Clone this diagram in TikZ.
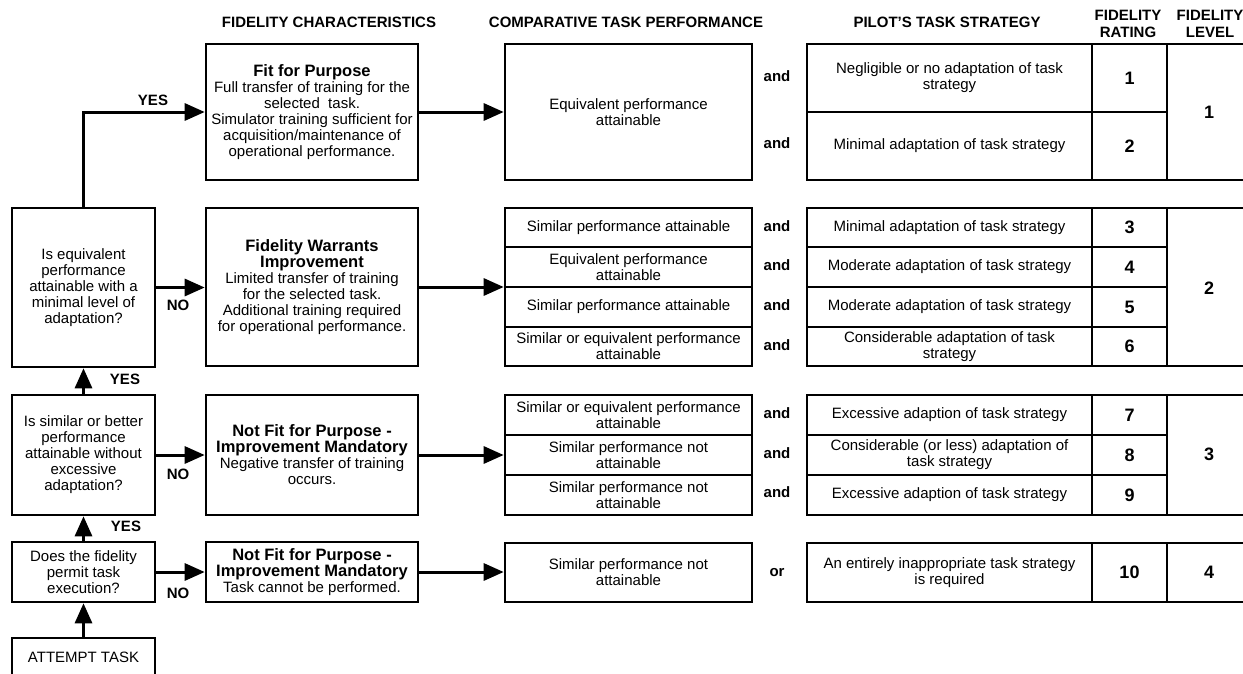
\documentclass[tikz,border=0pt]{standalone}
\usepackage{fontspec}
\setmainfont{Liberation Sans}
\usetikzlibrary{arrows.meta}

\newcommand\boxtitle[1]{{\bfseries\fontsize{16.5}{17}\selectfont #1}}
% \cell[options]{name}{left}{top}{right}{bottom}{text}
\newcommand\cell[6][]{\node[box,#1,minimum width={(#5-#3)*1pt},minimum height={(#6-#4)*1pt}] (#2) at ({(#3+#5)/2},{(#4+#6)/2})}

\begin{document}
\begin{tikzpicture}[x=1pt,y=-1pt,
  box/.style={draw, line width=2.6pt, inner sep=0pt, align=center,
              font=\fontsize{15}{16}\selectfont},
  hd/.style={font=\bfseries\fontsize{15}{16.5}\selectfont, align=center},
  lbl/.style={font=\bfseries\fontsize{15}{16}\selectfont, inner sep=0pt},
  num/.style={box, font=\bfseries\fontsize{18}{20}\selectfont},
  flow/.style={line width=3pt, -{Triangle[length=20pt,width=17pt]}},
]
\useasboundingbox (0,0) rectangle (1243,673);
\clip (0,0) rectangle (1243,673);

% column headings
\node[hd] (h1) at (329,22) {FIDELITY CHARACTERISTICS};
\node[hd] (h2) at (626,22) {COMPARATIVE TASK PERFORMANCE};
\node[hd] (h3) at (947,22) {PILOT'S TASK STRATEGY};
\node[hd] (h4) at (1128,24) {FIDELITY\\RATING};
\node[hd] (h5) at (1210,24) {FIDELITY\\LEVEL};

% decision column
\cell{q1}{12}{208}{155}{367}{Is equivalent\\performance\\attainable with a\\minimal level of\\adaptation?};
\cell{q2}{12}{395}{155}{515}{Is similar or better\\performance\\attainable without\\excessive\\adaptation?};
\cell{q3}{12}{542}{155}{602}{Does the fidelity\\permit task\\execution?};
\cell{q0}{12}{638}{155}{678}{};
\node[font=\fontsize{15}{16}\selectfont] (q0t) at (83.5,657) {ATTEMPT TASK};

% fidelity characteristics
\cell{ffp}{206}{44}{418}{180}{\boxtitle{Fit for Purpose}\\Full transfer of training for the\\selected\ \ task.\\Simulator training sufficient for\\acquisition/maintenance of\\operational performance.};
\cell{fw}{206}{208}{418}{366}{\boxtitle{Fidelity Warrants}\\\boxtitle{Improvement}\\Limited transfer of training\\for the selected task.\\Additional training required\\for operational performance.};
\cell{nf1}{206}{395}{418}{515}{\boxtitle{Not Fit for Purpose -}\\\boxtitle{Improvement Mandatory}\\Negative transfer of training\\occurs.};
\cell{nf2}{206}{542}{418}{602}{\boxtitle{Not Fit for Purpose -}\\\boxtitle{Improvement Mandatory}\\Task cannot be performed.};

% comparative task performance
\cell{p1}{505}{44}{752}{180}{Equivalent performance\\attainable};
\cell{p21}{505}{208}{752}{247}{Similar performance attainable};
\cell{p22}{505}{247}{752}{287}{Equivalent performance\\attainable};
\cell{p23}{505}{287}{752}{327}{Similar performance attainable};
\cell{p24}{505}{327}{752}{366}{Similar or equivalent performance\\attainable};
\cell{p31}{505}{395}{752}{435}{Similar or equivalent performance\\attainable};
\cell{p32}{505}{435}{752}{475}{Similar performance not\\attainable};
\cell{p33}{505}{475}{752}{515}{Similar performance not\\attainable};
\cell{p4}{505}{543}{752}{602}{Similar performance not\\attainable};

% connectives
\node[lbl] (a11) at (777,76) {and};
\node[lbl] (a12) at (777,143) {and};
\node[lbl] (a21) at (777,226) {and};
\node[lbl] (a22) at (777,265) {and};
\node[lbl] (a23) at (777,305) {and};
\node[lbl] (a24) at (777,345) {and};
\node[lbl] (a31) at (777,413) {and};
\node[lbl] (a32) at (777,453) {and};
\node[lbl] (a33) at (777,492) {and};
\node[lbl] (o4) at (777,573) {or};

% pilot's task strategy
\cell{s11}{807}{44}{1092}{112}{Negligible or no adaptation of task\\strategy};
\cell{s12}{807}{112}{1092}{180}{Minimal adaptation of task strategy};
\cell{s21}{807}{208}{1092}{247}{Minimal adaptation of task strategy};
\cell{s22}{807}{247}{1092}{287}{Moderate adaptation of task strategy};
\cell{s23}{807}{287}{1092}{327}{Moderate adaptation of task strategy};
\cell{s24}{807}{327}{1092}{366}{Considerable adaptation of task\\strategy};
\cell{s31}{807}{395}{1092}{435}{Excessive adaption of task strategy};
\cell{s32}{807}{435}{1092}{475}{Considerable (or less) adaptation of\\task strategy};
\cell{s33}{807}{475}{1092}{515}{Excessive adaption of task strategy};
\cell{s4}{807}{543}{1092}{602}{An entirely inappropriate task strategy\\is required};

% fidelity rating
\cell[num]{r1}{1092}{44}{1167}{112}{1};
\cell[num]{r2}{1092}{112}{1167}{180}{2};
\cell[num]{r3}{1092}{208}{1167}{247}{3};
\cell[num]{r4}{1092}{247}{1167}{287}{4};
\cell[num]{r5}{1092}{287}{1167}{327}{5};
\cell[num]{r6}{1092}{327}{1167}{366}{6};
\cell[num]{r7}{1092}{395}{1167}{435}{7};
\cell[num]{r8}{1092}{435}{1167}{475}{8};
\cell[num]{r9}{1092}{475}{1167}{515}{9};
\cell[num]{r10}{1092}{543}{1167}{602}{10};

% fidelity level (runs past the right edge)
\cell{l1}{1167}{44}{1260}{180}{};
\cell{l2}{1167}{208}{1260}{366}{};
\cell{l3}{1167}{395}{1260}{515}{};
\cell{l4}{1167}{543}{1260}{602}{};
\node[num, draw=none] (l1t) at (1209,112) {1};
\node[num, draw=none] (l2t) at (1209,288) {2};
\node[num, draw=none] (l3t) at (1209,454) {3};
\node[num, draw=none] (l4t) at (1209,572) {4};

% flow arrows
\draw[flow] (q0.north) -- (q3.south);
\draw[flow] (q3.north) -- (q2.south);
\draw[flow] (q2.north) -- (q1.south);
\draw[flow] (q1.north) |- (ffp.west);
\draw[flow] (q1.east) -- (q1.east -| fw.west);
\draw[flow] (q2.east) -- (q2.east -| nf1.west);
\draw[flow] (q3.east) -- (q3.east -| nf2.west);
\draw[flow] (ffp.east) -- (ffp.east -| p1.west);
\draw[flow] (fw.east) -- (fw.east -| p22.west);
\draw[flow] (nf1.east) -- (nf1.east -| p32.west);
\draw[flow] (nf2.east) -- (nf2.east -| p4.west);

% answers
\node[lbl] (y1) at (153,100) {YES};
\node[lbl] (y2) at (125,379) {YES};
\node[lbl] (y3) at (126,526) {YES};
\node[lbl] (n1) at (178,305) {NO};
\node[lbl] (n2) at (178,474) {NO};
\node[lbl] (n3) at (178,593) {NO};
\end{tikzpicture}
\end{document}
